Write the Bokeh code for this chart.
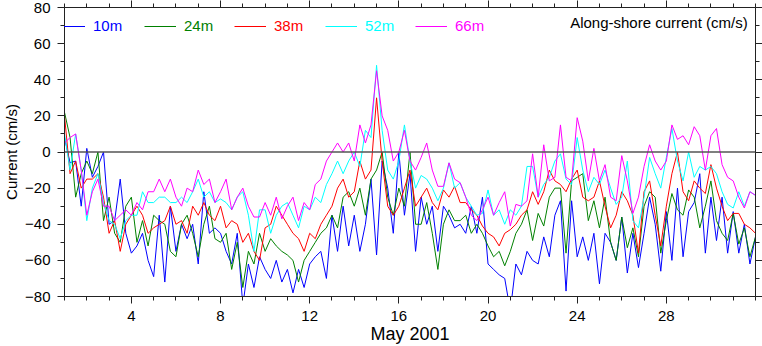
import numpy as np
from bokeh.plotting import figure
from bokeh.models import (Range1d, FixedTicker, LinearAxis, Span, Legend, LegendItem, Label)
from bokeh.embed import file_html
from bokeh.resources import INLINE

# time axis: days of May 2001, 6-hourly samples
days = [1 + 0.25 * i for i in range(125)]

cur_10m = [8, -6, -5, -30, 2, -14, -8, 0, -40, -38, -15, -45, -56, -52, -45, -60,
           -69, -35, -72, -30, -55, -40, -48, -40, -62, -22, -45, -42, -45, -55, -62, -45,
           -85, -62, -75, -58, -65, -70, -60, -72, -65, -78, -65, -75, -62, -58, -55, -70,
           -35, -55, -30, -52, -35, -55, -40, -15, -57, -5, -20, -45, 0, -35, -12, -55,
           -25, -40, -30, -55, -30, -35, -42, -40, -45, -30, -45, -25, -62, -65, -68, -70,
           -88, -62, -68, -55, -60, -62, -47, -58, -35, -27, -77, -27, -58, -47, -60, -45,
           -73, -45, -50, -60, -36, -67, -45, -64, -45, -25, -40, -66, -33, -60, -20, -58,
           -33, -28, -12, -56, -25, -49, -25, -56, -33, -56, -40, -62, -47]
cur_24m = [22, 8, -25, -12, -5, -12, 0, -38, -25, -45, -50, -30, -25, -50, -38, -52,
           -35, -38, -40, -55, -58, -40, -35, -45, -58, -40, -30, -48, -50, -45, -65, -50,
           -75, -55, -62, -45, -55, -48, -52, -55, -57, -60, -72, -60, -55, -50, -45, -42,
           -35, -42, -25, -22, -30, -20, -35, -15, -10, 0, -25, -35, -20, -30, 0, -40,
           -40, -28, -45, -65, -40, -32, -38, -38, -35, -45, -40, -45, -52, -58, -55, -63,
           -55, -45, -40, -32, -49, -34, -41, -25, -20, -20, -56, -16, -14, -12, -38, -27,
           -42, -25, -50, -60, -36, -53, -42, -58, -30, -22, -25, -56, -38, -23, -32, -35,
           -21, -25, -42, -30, -16, -38, -45, -49, -34, -51, -42, -58, -47]
cur_38m = [20, -12, -5, -20, -15, -15, -12, -25, -45, -38, -55, -40, -35, -30, -35, -45,
           -42, -40, -38, -30, -40, -38, -45, -30, -35, -28, -35, -38, -30, -42, -38, -40,
           -50, -45, -55, -60, -42, -40, -30, -35, -40, -45, -48, -55, -45, -48, -40, -35,
           -30, -20, -15, -25, -22, -5, -15, -10, 30, -5, -30, -35, -30, -20, -10, -30,
           -25, -20, -28, -32, -21, -25, -19, -28, -28, -32, -35, -41, -45, -47, -52, -45,
           -43, -40, -35, -32, -22, -29, -22, -10, -16, -18, -22, -15, -10, -25, -27, -25,
           -16, -30, -42, -35, -22, -27, -35, -56, -22, -16, -35, -52, -30, -12, 0, -22,
           -27, -16, -20, -23, -7, -20, -30, -38, -34, -34, -40, -42, -45]
cur_52m = [10, -10, 10, -10, -38, -20, -12, -28, -38, -40, -48, -38, -35, -35, -22, -28,
           -28, -25, -25, -28, -28, -25, -28, -22, -15, -25, -22, -28, -26, -28, -32, -25,
           -22, -35, -55, -32, -32, -45, -35, -30, -28, -35, -42, -30, -32, -25, -28, -18,
           -12, -5, -12, -5, 0, -8, 12, 8, 48, 12, -10, -15, -5, 15, -5, -20,
           -13, -15, -20, -27, -20, -6, -20, -17, -25, -30, -35, -34, -21, -35, -32, -40,
           -32, -35, -30, -8, -8, -25, -18, -14, -5, -1, -15, -18, 8, -10, -22, -14,
           -18, -10, -20, -29, -25, -5, -38, -42, -25, -3, -12, -20, -3, 13, -5, -16,
           0, -14, -8, -10, -8, -12, -22, -29, -31, -22, -30, -22, -24]
cur_66m = [5, 8, 10, -10, -35, -22, -15, -30, -30, -38, -35, -32, -35, -28, -32, -22,
           -22, -15, -22, -15, -25, -30, -20, -22, -10, -18, -15, -28, -22, -15, -32, -25,
           -20, -30, -36, -36, -28, -35, -25, -37, -30, -25, -38, -28, -32, -18, -15, -5,
           0, 5, 0, 5, -5, 15, 5, 15, 45, 20, 12, -5, 0, 12, -5, -10,
           -3, 5, -10, -19, -19, -6, -15, -17, -25, -35, -38, -32, -25, -35, -28, -22,
           -41, -29, -30, -27, -1, -25, 4, -16, -14, 15, -14, -16, 19, 6, -16, 2,
           -16, -7, -25, -27, -2, -16, -34, -25, -8, 4, -5, -10, -5, 15, 7, 9,
           4, 14, 9, -10, 9, 13, -7, -14, -16, -25, -31, -22, -24]

series_names = ["10m", "24m", "38m", "52m", "66m"]
series_colors = ["#0000ff", "#008000", "#ff0000", "#00ffff", "#ff00ff"]
series_values = [cur_10m, cur_24m, cur_38m, cur_52m, cur_66m]

x_major = [4, 8, 12, 16, 20, 24, 28]
x_minor = list(range(1, 33))
y_major = [-80, -60, -40, -20, 0, 20, 40, 60, 80]
y_minor = list(range(-80, 81, 10))

FONT = "Liberation Sans"

p = figure(width=762, height=346, output_backend="svg", toolbar_location=None,
           x_range=Range1d(1, 32), y_range=Range1d(-80, 80),
           min_border_left=54, min_border_right=7, min_border_top=6, min_border_bottom=50)
p.grid.visible = False
p.outline_line_color = None
p.background_fill_color = "white"
p.border_fill_color = "white"

def style_axis(ax, labels=True, ticks=None):
    ax.axis_line_color = "#222222"
    ax.major_tick_line_color = "#222222"
    ax.minor_tick_line_color = "#222222"
    ax.major_tick_in = 0
    ax.major_tick_out = 7
    ax.minor_tick_in = 0
    ax.minor_tick_out = 4
    ax.major_label_text_font = FONT
    ax.major_label_text_color = "black"
    if labels:
        ax.major_label_text_font_size = "15px"
        ax.major_label_standoff = 7
    else:
        ax.major_label_overrides = {t: "" for t in ticks}
        ax.major_label_text_font_size = "15px"
        ax.major_label_standoff = 0

xt = FixedTicker(ticks=x_major, minor_ticks=x_minor)
yt = FixedTicker(ticks=y_major, minor_ticks=y_minor)

p.xaxis.ticker = xt
p.yaxis.ticker = yt
style_axis(p.xaxis[0])
style_axis(p.yaxis[0])
for ax in (p.xaxis[0], p.yaxis[0]):
    ax.axis_label_text_font = FONT
    ax.axis_label_text_font_style = "normal"
    ax.axis_label_text_color = "black"
p.xaxis.axis_label = "May 2001"
p.xaxis.axis_label_text_font_size = "18px"
p.xaxis.axis_label_standoff = 0
p.yaxis.axis_label = "Current (cm/s)"
p.yaxis.axis_label_text_font_size = "15px"
p.yaxis.axis_label_standoff = 2

top = LinearAxis(ticker=xt)
style_axis(top, labels=False, ticks=x_major)
p.add_layout(top, "above")
right = LinearAxis(ticker=yt)
style_axis(right, labels=False, ticks=y_major)
p.add_layout(right, "right")

p.add_layout(Span(location=0, dimension="width", line_color="#555555", line_width=1.5))

renderers = []
for name, color, vals in zip(series_names, series_colors, series_values):
    r = p.line(days, vals, line_color=color, line_width=1)
    renderers.append(r)

legend_x = [-11, 80, 170, 261, 351]
for lx, name, color, r in zip(legend_x, series_names, series_colors, renderers):
    lg = Legend(items=[LegendItem(label=name, renderers=[r])], location=(lx, 262),
                orientation="horizontal", glyph_width=32, glyph_height=16,
                label_height=16, label_standoff=8, padding=0, margin=0, spacing=0,
                label_text_color=color, label_text_font=FONT, label_text_font_size="15px",
                background_fill_alpha=0, border_line_alpha=0)
    p.add_layout(lg)

p.add_layout(Label(x=31.65, y=71.8, text="Along-shore current (cm/s)", text_align="right",
                   text_baseline="middle", text_font=FONT, text_font_size="15px",
                   text_color="black"))

open("out.html", "w").write(file_html(p, INLINE))
